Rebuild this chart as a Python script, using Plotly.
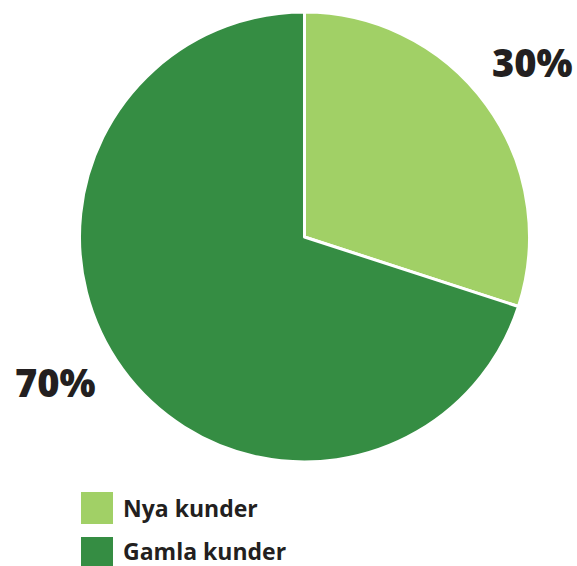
import plotly.graph_objects as go

W, H = 577, 566

labels = ["Nya kunder", "Gamla kunder"]
values = [30, 70]
colors = ["#a1d066", "#358d43"]
pct_text = ["30%", "70%"]

fig = go.Figure()
fig.add_trace(go.Pie(
    labels=labels, values=values, sort=False, direction="clockwise", rotation=0,
    marker=dict(colors=colors, line=dict(color="white", width=3)),
    textinfo="none", hoverinfo="label+percent", showlegend=False,
    domain=dict(x=[79 / W, 530 / W], y=[1 - 462 / H, 1 - 12 / H]),
))

def px(x, y):
    return x / W, 1 - y / H

# percentage labels
for txt, (x, y) in zip(pct_text, [(532, 62), (55, 382)]):
    ax, ay = px(x, y)
    fig.add_annotation(x=ax, y=ay, xref="paper", yref="paper", text=txt,
                       showarrow=False, xanchor="center", yanchor="middle",
                       font=dict(family="Open Sans", size=38, weight=800, color="#231f20"))

# manual legend with big squares
for i, (lab, col) in enumerate(zip(labels, colors)):
    top = 492 + i * 45
    x0, y0 = px(81, top)
    x1, y1 = px(113, top + 32)
    fig.add_shape(type="rect", xref="paper", yref="paper", x0=x0, x1=x1, y0=y1, y1=y0,
                  fillcolor=col, line=dict(width=0))
    tx, ty = px(121, top + 16 - i * 2)
    fig.add_annotation(x=tx, y=ty, xref="paper", yref="paper", text=f"<b>{lab}</b>",
                       showarrow=False, xanchor="left", yanchor="middle",
                       font=dict(family="Open Sans", size=23, color="#231f20"))

fig.update_layout(width=W, height=H, margin=dict(l=0, r=0, t=0, b=0),
                  paper_bgcolor="white", plot_bgcolor="white")
fig.write_html("out.html", config={"displayModeBar": False},
               post_script="document.body.style.margin='0';document.body.style.overflow='hidden';")
